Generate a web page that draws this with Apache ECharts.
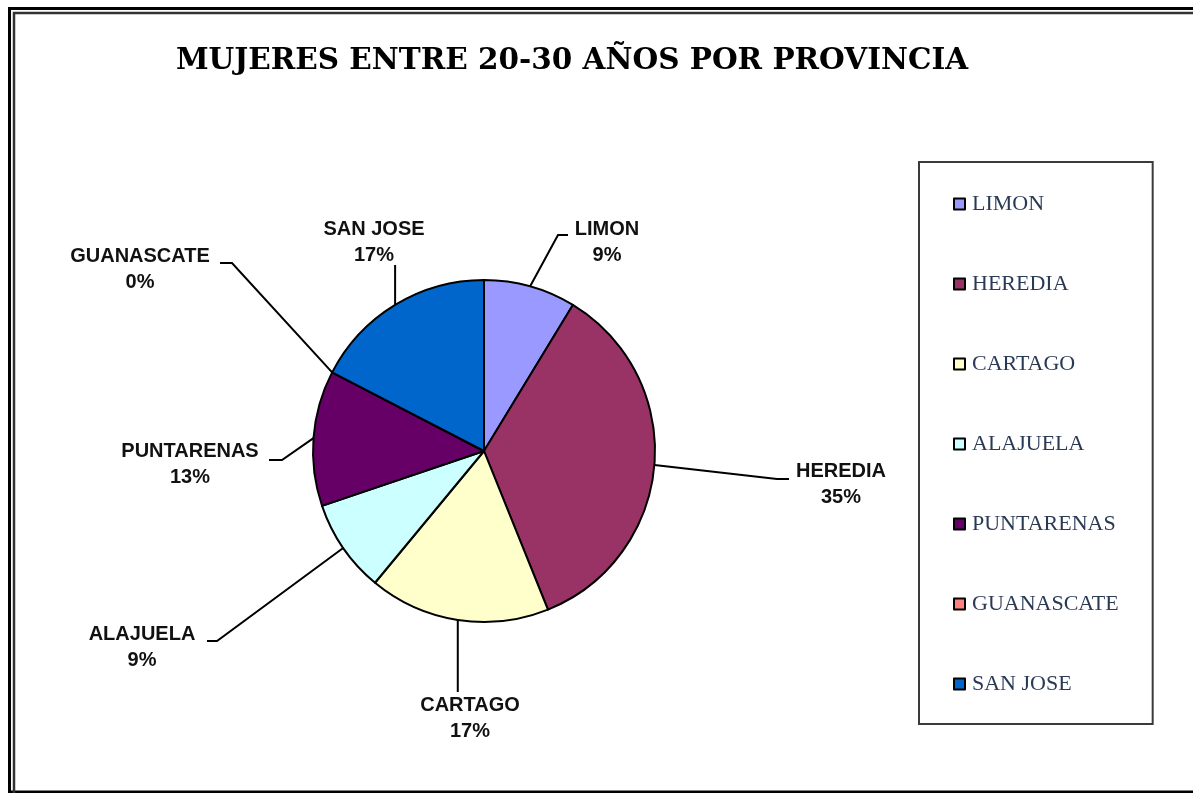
<!DOCTYPE html>
<html>
<head>
<meta charset="utf-8">
<script src="https://cdn.jsdelivr.net/npm/echarts@6/dist/echarts.min.js"></script>
<style>
  html, body { margin: 0; padding: 0; background: #fff; overflow: hidden; }
  #chart { width: 1193px; height: 793px; }
</style>
</head>
<body>
<div id="chart"></div>
<script>
// provinces, in pie order (clockwise from 12 o'clock)
const provinces = ['LIMON', 'HEREDIA', 'CARTAGO', 'ALAJUELA', 'PUNTARENAS', 'GUANASCATE', 'SAN JOSE'];
// share of women aged 20-30 (%)
const womenShare = [8.7, 35.2, 17.1, 8.8, 12.8, 0, 17.4];
const sliceColors = ['#9999FF', '#993366', '#FFFFCC', '#CCFFFF', '#660066', '#FF8080', '#0066CC'];

// leader line bend / end and label anchor for each slice (layout only)
// vert: the leader goes straight up/down from the slice edge
const labelSpots = [
  { bx: 558, by: 235, ex: 568, tx: 607, ty: 242 },
  { bx: 777, by: 479, ex: 789, tx: 841, ty: 484 },
  { bx: 460, by: 692, ex: 460, tx: 470, ty: 718, vert: true },
  { bx: 217, by: 641, ex: 207, tx: 142, ty: 647 },
  { bx: 282, by: 460, ex: 269, tx: 190, ty: 464 },
  { bx: 232, by: 263, ex: 220, tx: 140, ty: 269 },
  { bx: 393, by: 265, ex: 393, tx: 374, ty: 242, vert: true }
];

const chart = echarts.init(document.getElementById('chart'), null, { renderer: 'canvas' });

chart.setOption({
  animation: false,
  backgroundColor: '#fff',
  color: sliceColors,
  title: {
    text: 'MUJERES ENTRE 20-30 AÑOS POR PROVINCIA',
    left: 572,
    top: 44,
    padding: 0,
    textAlign: 'center',
    textStyle: {
      fontFamily: '"DejaVu Serif"',
      fontWeight: 'bold',
      fontSize: 29.5,
      lineHeight: 34,
      color: '#000'
    }
  },
  legend: {
    orient: 'vertical',
    left: 919,
    top: 162,
    padding: [30, 34, 28, 34],
    itemGap: 56,
    itemWidth: 11,
    itemHeight: 11,
    icon: 'rect',
    selectedMode: false,
    borderColor: '#3a3a3a',
    borderWidth: 2,
    itemStyle: { borderColor: '#000', borderWidth: 2 },
    textStyle: {
      fontFamily: 'Liberation Serif',
      fontSize: 22,
      lineHeight: 24,
      color: '#2a3a55',
      padding: [0, 0, 0, 2]
    },
    data: provinces
  },
  graphic: [
    {
      type: 'polyline',
      silent: true,
      shape: { points: [[1300, 8.5], [9.5, 8.5], [9.5, 792], [1300, 792]] },
      style: { fill: null, stroke: '#000', lineWidth: 3 }
    },
    {
      type: 'polyline',
      silent: true,
      shape: { points: [[1300, 13], [14, 13], [14, 900]] },
      style: { fill: null, stroke: '#333', lineWidth: 2.5 }
    }
  ],
  series: [
    {
      type: 'pie',
      center: [484, 451],
      radius: 171,
      startAngle: 90,
      clockwise: true,
      avoidLabelOverlap: false,
      percentPrecision: 0,
      itemStyle: { borderColor: '#000', borderWidth: 2 },
      emphasis: { disabled: true },
      label: {
        show: true,
        position: 'outside',
        formatter: '{b}\n{d}%',
        fontFamily: 'Liberation Sans',
        fontWeight: 'bold',
        fontSize: 20,
        lineHeight: 26,
        color: '#111'
      },
      labelLine: {
        show: true,
        length: 20,
        length2: 10,
        lineStyle: { color: '#000', width: 2 }
      },
      labelLayout: function (p) {
        const s = labelSpots[p.dataIndex];
        const start = p.labelLinePoints ? p.labelLinePoints[0] : [s.bx, s.by];
        const bx = s.vert ? start[0] : s.bx;
        const ex = s.vert ? start[0] : s.ex;
        return {
          x: s.tx,
          y: s.ty,
          align: 'center',
          verticalAlign: 'middle',
          labelLinePoints: [start, [bx, s.by], [ex, s.by]]
        };
      },
      data: provinces.map((name, i) => ({ name: name, value: womenShare[i] }))
    }
  ]
});
</script>
</body>
</html>
